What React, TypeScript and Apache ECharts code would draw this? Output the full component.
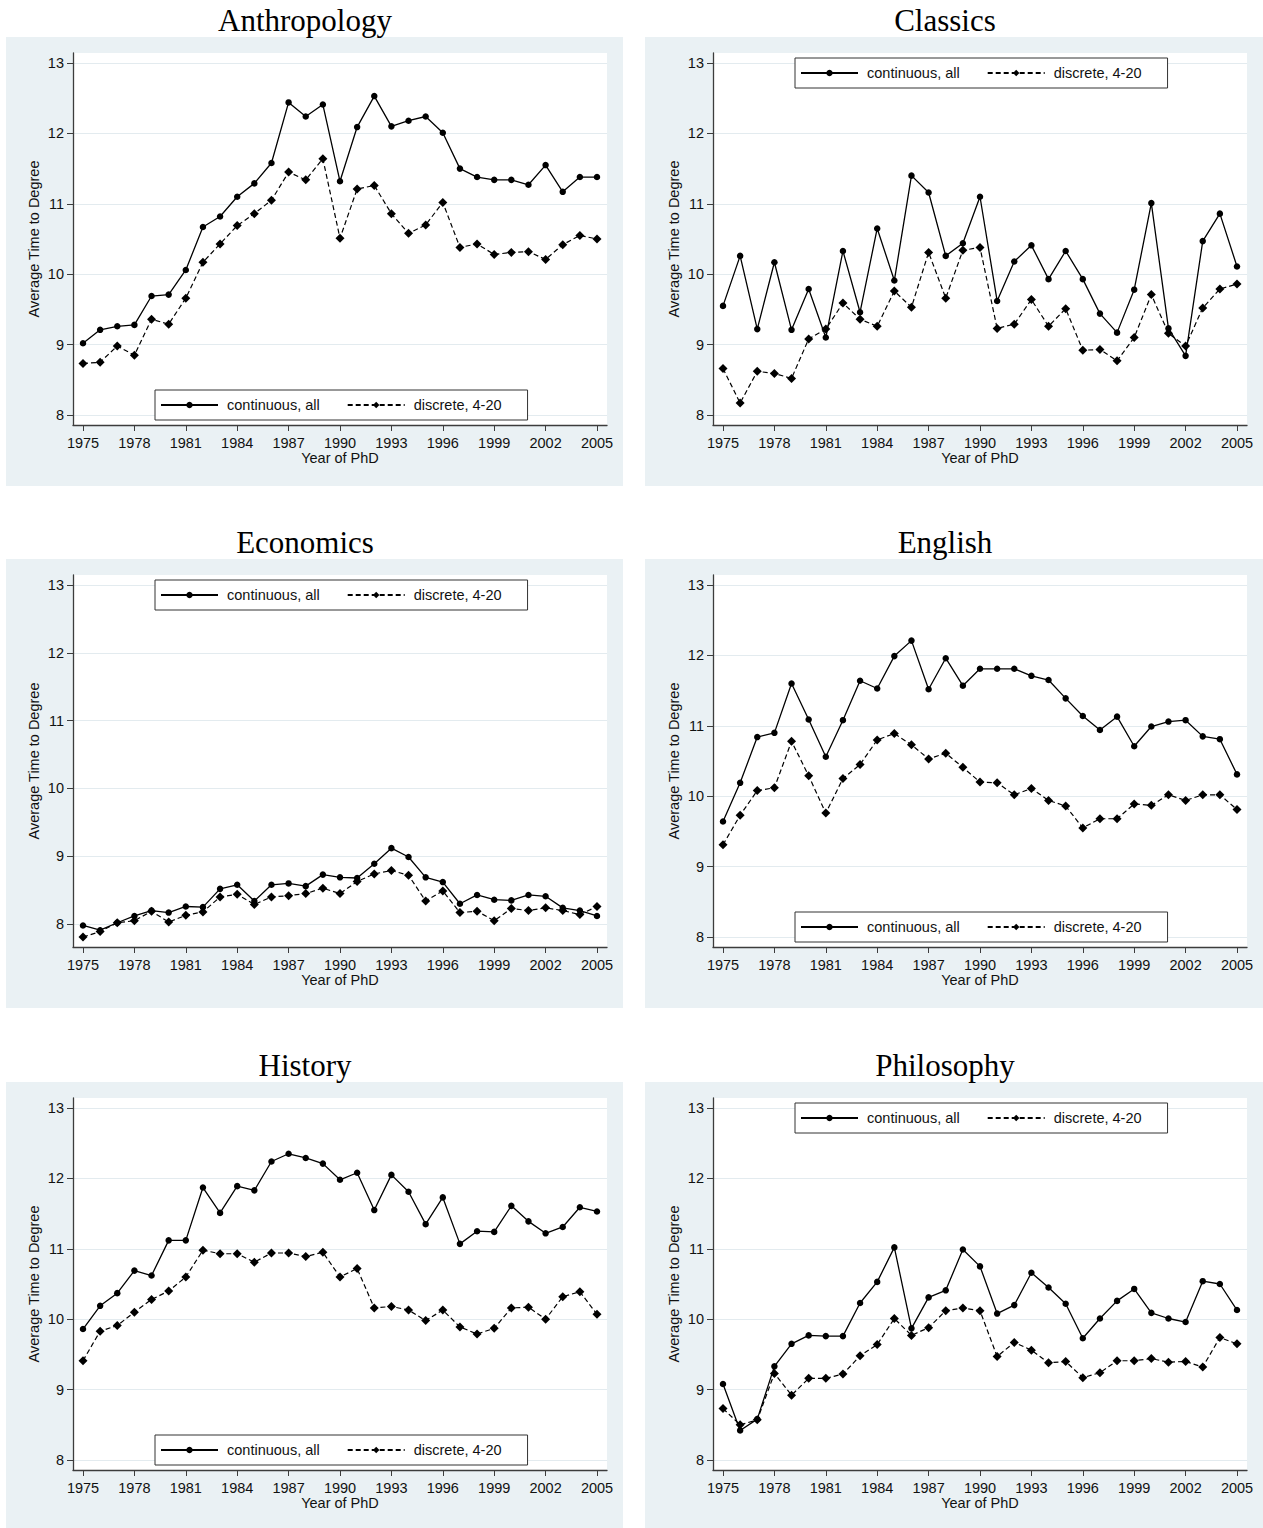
import React, { useEffect, useRef } from "react";
import * as echarts from "echarts";

// Years of PhD completion
const years = [
  1975, 1976, 1977, 1978, 1979, 1980, 1981, 1982, 1983, 1984, 1985, 1986, 1987, 1988, 1989, 1990,
  1991, 1992, 1993, 1994, 1995, 1996, 1997, 1998, 1999, 2000, 2001, 2002, 2003, 2004, 2005,
];
const yearTicks = [1975, 1978, 1981, 1984, 1987, 1990, 1993, 1996, 1999, 2002, 2005];
const valueTicks = [8, 9, 10, 11, 12, 13];

const anthropologyContinuous = [9.02, 9.21, 9.26, 9.28, 9.69, 9.71, 10.06, 10.67, 10.82, 11.1, 11.29, 11.58, 12.44, 12.24, 12.41, 11.32, 12.09, 12.53, 12.1, 12.18, 12.24, 12.01, 11.5, 11.38, 11.34, 11.34, 11.27, 11.55, 11.17, 11.38, 11.38];
const anthropologyDiscrete = [8.73, 8.75, 8.98, 8.85, 9.36, 9.29, 9.66, 10.17, 10.43, 10.69, 10.86, 11.05, 11.45, 11.34, 11.64, 10.51, 11.21, 11.26, 10.86, 10.58, 10.7, 11.02, 10.38, 10.43, 10.28, 10.31, 10.32, 10.21, 10.42, 10.55, 10.5];

const classicsContinuous = [9.55, 10.26, 9.22, 10.17, 9.21, 9.79, 9.1, 10.33, 9.46, 10.65, 9.91, 11.4, 11.16, 10.26, 10.44, 11.1, 9.62, 10.18, 10.41, 9.93, 10.33, 9.93, 9.44, 9.17, 9.78, 11.01, 9.23, 8.84, 10.47, 10.86, 10.11];
const classicsDiscrete = [8.66, 8.17, 8.62, 8.59, 8.52, 9.08, 9.22, 9.59, 9.36, 9.26, 9.76, 9.53, 10.31, 9.66, 10.34, 10.38, 9.23, 9.29, 9.64, 9.26, 9.51, 8.92, 8.93, 8.77, 9.1, 9.71, 9.16, 8.98, 9.52, 9.79, 9.86];

const economicsContinuous = [7.98, 7.91, 8.02, 8.12, 8.2, 8.17, 8.26, 8.25, 8.52, 8.58, 8.34, 8.58, 8.6, 8.56, 8.73, 8.69, 8.68, 8.89, 9.12, 8.99, 8.69, 8.62, 8.3, 8.43, 8.36, 8.35, 8.43, 8.41, 8.24, 8.2, 8.12];
const economicsDiscrete = [7.81, 7.89, 8.02, 8.05, 8.19, 8.03, 8.13, 8.18, 8.4, 8.44, 8.29, 8.4, 8.42, 8.45, 8.53, 8.45, 8.63, 8.74, 8.79, 8.72, 8.34, 8.49, 8.17, 8.19, 8.05, 8.23, 8.2, 8.24, 8.2, 8.14, 8.26];

const englishContinuous = [9.64, 10.19, 10.84, 10.9, 11.6, 11.09, 10.56, 11.08, 11.64, 11.53, 11.99, 12.21, 11.52, 11.96, 11.57, 11.81, 11.81, 11.81, 11.71, 11.65, 11.39, 11.14, 10.94, 11.13, 10.71, 10.99, 11.06, 11.08, 10.85, 10.81, 10.31];
const englishDiscrete = [9.31, 9.73, 10.08, 10.12, 10.78, 10.29, 9.76, 10.25, 10.45, 10.8, 10.89, 10.73, 10.53, 10.61, 10.41, 10.2, 10.19, 10.02, 10.11, 9.94, 9.86, 9.55, 9.68, 9.68, 9.89, 9.87, 10.02, 9.94, 10.02, 10.02, 9.81];

const historyContinuous = [9.86, 10.19, 10.37, 10.69, 10.62, 11.12, 11.12, 11.87, 11.51, 11.89, 11.83, 12.24, 12.35, 12.29, 12.21, 11.98, 12.08, 11.55, 12.05, 11.81, 11.35, 11.73, 11.07, 11.25, 11.24, 11.61, 11.39, 11.22, 11.31, 11.59, 11.53];
const historyDiscrete = [9.41, 9.83, 9.91, 10.1, 10.28, 10.4, 10.6, 10.98, 10.93, 10.93, 10.81, 10.94, 10.94, 10.89, 10.95, 10.6, 10.72, 10.16, 10.18, 10.13, 9.98, 10.13, 9.89, 9.79, 9.87, 10.16, 10.17, 10.0, 10.32, 10.39, 10.07];

const philosophyContinuous = [9.08, 8.42, 8.58, 9.33, 9.65, 9.77, 9.76, 9.76, 10.23, 10.53, 11.02, 9.87, 10.31, 10.41, 10.99, 10.75, 10.08, 10.2, 10.66, 10.45, 10.22, 9.73, 10.01, 10.26, 10.43, 10.09, 10.01, 9.96, 10.54, 10.5, 10.13];
const philosophyDiscrete = [8.73, 8.5, 8.57, 9.23, 8.92, 9.16, 9.16, 9.22, 9.48, 9.64, 10.01, 9.77, 9.88, 10.12, 10.16, 10.12, 9.47, 9.67, 9.56, 9.38, 9.4, 9.17, 9.24, 9.41, 9.41, 9.44, 9.39, 9.4, 9.32, 9.74, 9.65];

const seriesNames = ["continuous, all", "discrete, 4-20"];

type Panel = {
  title: string;
  continuous: number[];
  discrete: number[];
  legendOnTop: boolean;
};

const panels: Panel[] = [
  { title: "Anthropology", continuous: anthropologyContinuous, discrete: anthropologyDiscrete, legendOnTop: false },
  { title: "Classics", continuous: classicsContinuous, discrete: classicsDiscrete, legendOnTop: true },
  { title: "Economics", continuous: economicsContinuous, discrete: economicsDiscrete, legendOnTop: true },
  { title: "English", continuous: englishContinuous, discrete: englishDiscrete, legendOnTop: false },
  { title: "History", continuous: historyContinuous, discrete: historyDiscrete, legendOnTop: false },
  { title: "Philosophy", continuous: philosophyContinuous, discrete: philosophyDiscrete, legendOnTop: true },
];

// Page layout (pixels)
const PAGE_W = 1263;
const PAGE_H = 1528;
const BG_LEFT = [6, 645];
const BG_WIDTH = [617, 618];
const BG_TOP = [37, 559, 1082];
const BG_HEIGHT = 449;
const PLOT_LEFT = [73, 713];
const PLOT_TOP = [53, 575, 1098];
const PLOT_W = 534;
const PLOT_H = 372;
const PLOT_PAD = 10; // inner margin of the plot region
const TITLE_X = [305, 945];
const TITLE_Y = [20, 542, 1065];

const SANS = "'Liberation Sans', Arial, sans-serif";
const SERIF = "'Liberation Serif', 'Times New Roman', serif";
const AXIS_COLOR = "#3c3c3c";
const GRID_COLOR = "#e3ebef";
const PANEL_BG = "#eaf1f4";

function buildOption() {
  const grids: any[] = [];
  const xAxes: any[] = [];
  const yAxes: any[] = [];
  const series: any[] = [];
  const legends: any[] = [];
  const graphics: any[] = [];

  const xLo = years[0];
  const xHi = years[years.length - 1];
  const xScale = (PLOT_W - 2 * PLOT_PAD) / (xHi - xLo);

  panels.forEach((p, i) => {
    const col = i % 2;
    const row = Math.floor(i / 2);
    const left = PLOT_LEFT[col];
    const top = PLOT_TOP[row];

    graphics.push({
      type: "rect",
      z: -10,
      silent: true,
      shape: { x: BG_LEFT[col], y: BG_TOP[row], width: BG_WIDTH[col], height: BG_HEIGHT },
      style: { fill: PANEL_BG },
    });
    graphics.push({
      type: "text",
      z: 10,
      silent: true,
      x: TITLE_X[col],
      y: TITLE_Y[row],
      style: {
        text: p.title,
        fontFamily: SERIF,
        fontSize: 31,
        fill: "#000",
        align: "center",
        verticalAlign: "middle",
      },
    });

    const all = p.continuous.concat(p.discrete);
    const lo = Math.min(valueTicks[0], Math.min(...all));
    const hi = Math.max(valueTicks[valueTicks.length - 1], Math.max(...all));
    const yScale = (PLOT_H - 2 * PLOT_PAD) / (hi - lo);

    grids.push({
      left,
      top,
      width: PLOT_W,
      height: PLOT_H,
      show: true,
      backgroundColor: "#ffffff",
      borderWidth: 0,
      containLabel: false,
    });

    xAxes.push({
      type: "value",
      gridIndex: i,
      min: xLo - PLOT_PAD / xScale,
      max: xHi + PLOT_PAD / xScale,
      axisLine: { show: true, onZero: false, lineStyle: { color: AXIS_COLOR, width: 1.3 } },
      axisTick: { show: true, length: 6, customValues: yearTicks, lineStyle: { color: AXIS_COLOR, width: 1 } },
      axisLabel: {
        customValues: yearTicks,
        formatter: (v: number) => String(v),
        fontFamily: SANS,
        fontSize: 14.5,
        color: "#111",
        margin: 10,
      },
      splitLine: { show: false },
      name: "Year of PhD",
      nameLocation: "middle",
      nameGap: 25,
      nameTextStyle: { fontFamily: SANS, fontSize: 14.5, color: "#111" },
    });

    yAxes.push({
      type: "value",
      gridIndex: i,
      min: lo - PLOT_PAD / yScale,
      max: hi + PLOT_PAD / yScale,
      axisLine: { show: true, onZero: false, lineStyle: { color: AXIS_COLOR, width: 1.3 } },
      axisTick: { show: true, length: 6, customValues: valueTicks, lineStyle: { color: AXIS_COLOR, width: 1 } },
      axisLabel: {
        customValues: valueTicks,
        fontFamily: SANS,
        fontSize: 14.5,
        color: "#111",
        margin: 9,
      },
      splitLine: { show: true, lineStyle: { color: GRID_COLOR, width: 1.2 } },
      name: "Average Time to Degree",
      nameLocation: "middle",
      nameGap: 32,
      nameTextStyle: { fontFamily: SANS, fontSize: 14.5, color: "#111" },
    });

    series.push({
      type: "line",
      name: seriesNames[0],
      xAxisIndex: i,
      yAxisIndex: i,
      data: years.map((y, k) => [y, p.continuous[k]]),
      symbol: "circle",
      symbolSize: 6.5,
      showSymbol: true,
      silent: true,
      itemStyle: { color: "#000" },
      lineStyle: { color: "#000", width: 1.3, type: "solid" },
    });
    series.push({
      type: "line",
      name: seriesNames[1],
      xAxisIndex: i,
      yAxisIndex: i,
      data: years.map((y, k) => [y, p.discrete[k]]),
      symbol: "diamond",
      symbolSize: 9,
      showSymbol: true,
      silent: true,
      itemStyle: { color: "#000" },
      lineStyle: { color: "#000", width: 1.2, type: [5, 3] },
    });

    legends.push({
      data: seriesNames,
      left: left + 82,
      top: p.legendOnTop ? top + 5 : top + 337,
      orient: "horizontal",
      itemWidth: 57,
      itemHeight: 8,
      itemGap: 27,
      padding: [6, 26, 6, 5],
      borderColor: "#333",
      borderWidth: 1,
      backgroundColor: "#ffffff",
      selectedMode: false,
      textStyle: {
        fontFamily: SANS,
        fontSize: 14.5,
        color: "#111",
        lineHeight: 18,
        padding: [0, 0, 0, 4],
      },
    });
  });

  return {
    animation: false,
    backgroundColor: "#ffffff",
    grid: grids,
    xAxis: xAxes,
    yAxis: yAxes,
    legend: legends,
    series,
    graphic: graphics,
  };
}

export default function App() {
  const ref = useRef<HTMLDivElement>(null);

  useEffect(() => {
    if (!ref.current) return;
    const chart = echarts.init(ref.current, undefined, { renderer: "svg" });
    chart.setOption(buildOption() as any);
    return () => chart.dispose();
  }, []);

  return (
    <div
      ref={ref}
      style={{ position: "absolute", left: 0, top: 0, width: PAGE_W, height: PAGE_H }}
    />
  );
}
